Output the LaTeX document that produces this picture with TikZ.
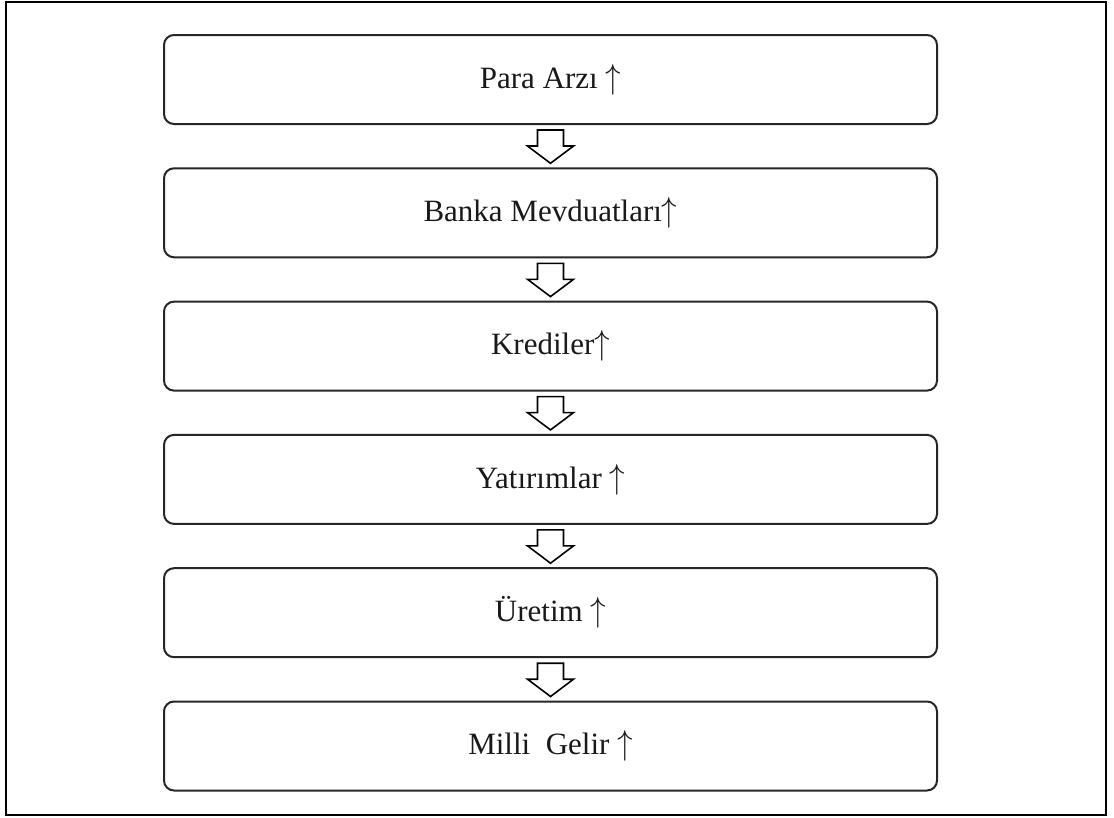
\RequirePackage{fix-cm}
\documentclass[tikz,border=0pt]{standalone}
\usepackage{fontspec}
\setmainfont{Liberation Serif}
\usetikzlibrary{calc}
\newcommand{\upar}{\scalebox{1}[1.12]{$\uparrow$}}
\tikzset{
  stepbox/.style={draw=black!85, line width=2pt, rounded corners=10pt, minimum width=773pt, minimum height=89pt, inner sep=0pt, font=\fontsize{31}{36}\selectfont, text=black!90},
  blockarrow/.style={draw=black, line width=1.6pt, fill=white, line join=miter},
  frame/.style={draw=black, line width=2.5pt}
}
\begin{document}
\begin{tikzpicture}[x=1pt,y=-1pt]
\useasboundingbox (0,0) rectangle (1114,817);
\draw[frame] (6,2) rectangle (1106,815);
\node[stepbox] (b1) at (550.5,79.5) {Para Arzı \upar};
\node[stepbox] (b2) at (550.5,212.8) {Banka Mevduatları\upar};
\node[stepbox] (b3) at (550.5,346.1) {Krediler\upar};
\node[stepbox] (b4) at (550.5,479.4) {Yatırımlar \upar};
\node[stepbox] (b5) at (550.5,612.7) {Üretim \upar};
\node[stepbox] (b6) at (550.5,746) {Milli\ \ Gelir \upar};
\foreach \a/\b in {b1/b2,b2/b3,b3/b4,b4/b5,b5/b6}{
  \draw[blockarrow] ($(\a.south)+(-13,5)$) -- ++(26,0) -- ++(0,16) -- ++(10,0)
    -- ($(\b.north)+(0,-4)$) -- ($(\a.south)+(-23,21)$) -- ++(10,0) -- cycle;
}
\end{tikzpicture}
\end{document}
